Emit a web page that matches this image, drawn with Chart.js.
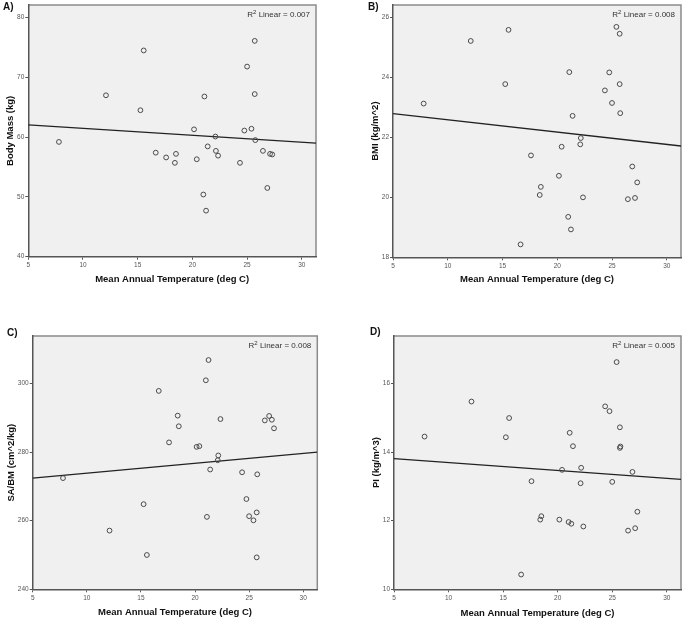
<!DOCTYPE html>
<html lang="en">
<head>
  <meta charset="UTF-8">
  <title>Temperature scatter plots</title>
  <script src="https://cdn.jsdelivr.net/npm/chart.js"></script>
  <style>
    body {
      margin: 0;
      padding: 0;
      background: #fff;
      font-family: Arial, "Liberation Sans", sans-serif;
    }
    .page {
      position: relative;
      width: 686px;
      height: 621px;
      overflow: hidden;
    }
    .page canvas {
      position: absolute;
    }
    .letter {
      position: absolute;
      font-size: 10px;
      font-weight: bold;
      color: #111;
      line-height: 12px;
    }
  </style>
</head>
<body>
<div class="page">
  <canvas id="chartA" width="343" height="300" style="left:0;top:0"></canvas>
  <canvas id="chartB" width="343" height="300" style="left:343px;top:0"></canvas>
  <canvas id="chartC" width="343" height="311" style="left:0;top:310px"></canvas>
  <canvas id="chartD" width="343" height="311" style="left:343px;top:310px"></canvas>
  <div class="letter" style="left:3px;top:1px">A)</div>
  <div class="letter" style="left:368px;top:1px">B)</div>
  <div class="letter" style="left:7px;top:327px">C)</div>
  <div class="letter" style="left:370px;top:326px">D)</div>
</div>

<script>
  // mean annual temperature for each population (shared by all four panels)
  var temperature = [7.8, 12.1, 15.25, 15.55, 16.65, 17.6, 18.4, 18.5, 20.15, 20.4,
    21.0, 21.1, 21.25, 21.4, 22.1, 22.15, 22.35, 24.35, 24.75, 25.0,
    25.4, 25.7, 25.7, 25.75, 26.45, 26.85, 27.1, 27.3];

  var bodyMass = [59.2, 67.0, 64.5, 74.5, 57.4, 56.6, 55.7, 57.2, 61.3, 56.3,
    50.4, 66.8, 47.7, 58.45, 60.1, 57.7, 56.9, 55.7, 61.1, 71.8,
    61.4, 76.1, 67.2, 59.5, 57.7, 51.5, 57.2, 57.1];

  var bmi = [23.13, 25.22, 23.78, 25.59, 18.43, 21.40, 20.08, 20.35, 20.72, 21.69,
    19.35, 24.18, 18.93, 22.72, 21.77, 21.98, 20.00, 23.57, 24.17, 23.15,
    25.69, 25.46, 23.78, 22.81, 19.94, 21.03, 19.98, 20.50];

  var saBm = [272.4, 257.1, 264.8, 250.0, 297.8, 282.8, 290.6, 287.5, 281.5, 281.7,
    300.9, 261.1, 306.8, 274.9, 277.6, 279.0, 289.6, 274.1, 266.3, 261.3,
    260.1, 249.3, 262.4, 273.5, 289.2, 290.5, 289.4, 286.9];

  var ponderal = [14.45, 15.47, 14.43, 14.99, 10.43, 13.15, 12.03, 12.13, 12.03, 13.48,
    11.96, 14.56, 11.91, 14.17, 13.09, 13.54, 11.83, 15.33, 15.19, 13.13,
    16.62, 14.12, 14.72, 14.16, 11.71, 13.42, 11.78, 12.26];

  // axis ranges and tick labels
  var xRange = [5, 31.3];
  var xTicks = [5, 10, 15, 20, 25, 30];
  var massRange = [40, 82.1];
  var massTicks = [40, 50, 60, 70, 80];
  var bmiRange = [18, 26.42];
  var bmiTicks = [18, 20, 22, 24, 26];
  var saRange = [240, 313.8];
  var saTicks = [240, 260, 280, 300];
  var piRange = [10, 17.38];
  var piTicks = [10, 12, 14, 16];

  var xTitle = 'Mean Annual Temperature (deg C)';
  var yTitles = ['Body Mass (kg)', 'BMI (kg/m^2)', 'SA/BM (cm^2/kg)', 'PI (kg/m^3)'];
  var r2Values = ['0.007', '0.008', '0.008', '0.005'];

  var FONT = 'Arial, "Liberation Sans", sans-serif';

  function linearFit(xs, ys) {
    var n = xs.length, sx = 0, sy = 0, sxx = 0, sxy = 0;
    for (var i = 0; i < n; i++) {
      sx += xs[i]; sy += ys[i];
      sxx += xs[i] * xs[i]; sxy += xs[i] * ys[i];
    }
    var slope = (n * sxy - sx * sy) / (n * sxx - sx * sx);
    var intercept = (sy - slope * sx) / n;
    return function (x) { return intercept + slope * x; };
  }

  // grey plot background + lighter frame on top/right + R^2 note
  var panelPlugin = {
    id: 'panel',
    beforeDraw: function (chart) {
      var a = chart.chartArea, ctx = chart.ctx;
      ctx.save();
      ctx.fillStyle = '#f0f0f0';
      ctx.fillRect(a.left, a.top, a.right - a.left, a.bottom - a.top);
      ctx.strokeStyle = '#8a8a8a';
      ctx.lineWidth = 1.5;
      ctx.beginPath();
      ctx.moveTo(a.left, a.top);
      ctx.lineTo(a.right, a.top);
      ctx.lineTo(a.right, a.bottom);
      ctx.stroke();
      ctx.restore();
    },
    afterDraw: function (chart) {
      var a = chart.chartArea, ctx = chart.ctx;
      var r2 = chart.options.plugins.panel.r2;
      var rest = ' Linear = ' + r2;
      ctx.save();
      ctx.fillStyle = '#333';
      ctx.textBaseline = 'alphabetic';
      ctx.font = '8px ' + FONT;
      var wR = ctx.measureText('R').width;
      var wRest = ctx.measureText(rest).width;
      ctx.font = '6px ' + FONT;
      var w2 = ctx.measureText('2').width;
      var x = a.right - 6 - (wR + w2 + wRest);
      var y = a.top + 12;
      ctx.font = '8px ' + FONT;
      ctx.fillText('R', x, y);
      ctx.font = '6px ' + FONT;
      ctx.fillText('2', x + wR, y - 3.5);
      ctx.font = '8px ' + FONT;
      ctx.fillText(rest, x + wR + w2, y);
      ctx.restore();
    }
  };

  function makeChart(id, ys, yRange, yTicks, yTitle, r2, g) {
    var fit = linearFit(temperature, ys);
    var points = temperature.map(function (t, i) { return {x: t, y: ys[i]}; });
    var ctx = document.getElementById(id).getContext('2d');
    return new Chart(ctx, {
      type: 'scatter',
      data: {
        datasets: [{
          data: points,
          pointRadius: 2.4,
          pointBorderWidth: 1,
          pointBorderColor: '#4a4a4a',
          pointBackgroundColor: 'rgba(0,0,0,0)'
        }, {
          type: 'line',
          data: [{x: xRange[0], y: fit(xRange[0])}, {x: xRange[1], y: fit(xRange[1])}],
          borderColor: '#222',
          borderWidth: 1.3,
          pointRadius: 0
        }]
      },
      options: {
        responsive: false,
        animation: false,
        events: [],
        layout: {padding: {top: g.padTop, right: g.padRight, left: 0, bottom: 0}},
        plugins: {
          legend: {display: false},
          tooltip: {enabled: false},
          panel: {r2: r2}
        },
        scales: {
          x: {
            type: 'linear',
            min: xRange[0],
            max: xRange[1],
            afterFit: function (s) { s.height = g.xHeight; },
            afterBuildTicks: function (s) { s.ticks = xTicks.map(function (v) { return {value: v}; }); },
            grid: {display: true, drawOnChartArea: false, tickLength: 3, color: '#555'},
            border: {color: '#555', width: 1.5},
            ticks: {font: {size: 6.5, family: FONT}, color: '#555', padding: 2, maxRotation: 0},
            title: {
              display: true, text: xTitle, color: '#111',
              font: {size: 9.5, weight: 'bold', family: FONT},
              padding: {top: 0, bottom: g.xTitlePad}
            }
          },
          y: {
            type: 'linear',
            min: yRange[0],
            max: yRange[1],
            afterFit: function (s) { s.width = g.yWidth; },
            afterBuildTicks: function (s) { s.ticks = yTicks.map(function (v) { return {value: v}; }); },
            grid: {display: true, drawOnChartArea: false, tickLength: 3, color: '#555'},
            border: {color: '#555', width: 1.5},
            ticks: {font: {size: 6.5, family: FONT}, color: '#555', padding: 1},
            title: {
              display: true, text: yTitle, color: '#111',
              font: {size: 9.5, weight: 'bold', family: FONT},
              padding: {top: g.yTitlePad, bottom: 0}
            }
          }
        }
      },
      plugins: [panelPlugin]
    });
  }

  makeChart('chartA', bodyMass, massRange, massTicks, yTitles[0], r2Values[0],
    {padTop: 3.3, padRight: 27, yWidth: 28.3, xHeight: 43.3, xTitlePad: 15, yTitlePad: 5});
  makeChart('chartB', bmi, bmiRange, bmiTicks, yTitles[1], r2Values[1],
    {padTop: 3.3, padRight: 4.7, yWidth: 50, xHeight: 42.7, xTitlePad: 15, yTitlePad: 27});
  makeChart('chartC', saBm, saRange, saTicks, yTitles[2], r2Values[2],
    {padTop: 26, padRight: 25.7, yWidth: 32.7, xHeight: 31.7, xTitlePad: 3, yTitlePad: 5.5});
  makeChart('chartD', ponderal, piRange, piTicks, yTitles[3], r2Values[3],
    {padTop: 26, padRight: 4, yWidth: 51, xHeight: 31.7, xTitlePad: 2, yTitlePad: 27.5});
</script>
</body>
</html>
